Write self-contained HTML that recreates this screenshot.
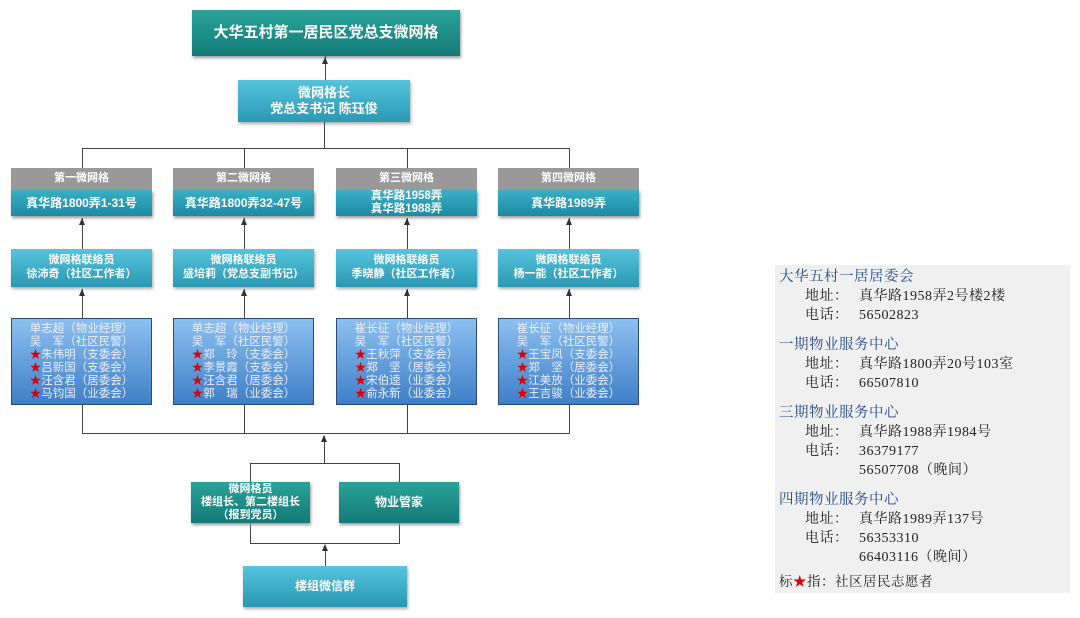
<!DOCTYPE html>
<html><head><meta charset="utf-8"><style>
body{margin:0;width:1080px;height:618px;background:#fff;position:relative;font-family:"Liberation Sans","Noto Sans CJK SC",sans-serif;overflow:hidden}
.b{position:absolute;box-sizing:border-box;color:#fff;font-weight:bold;text-align:center;display:flex;align-items:center;justify-content:center;flex-direction:column;line-height:1.25}
.t{background:linear-gradient(#2aa39a,#137a78);box-shadow:1px 2px 3px #999}
.l{background:linear-gradient(#55c4dc,#2c98b4);box-shadow:1px 2px 3px #aaa}
.g{background:#999;font-size:11px;height:22px}
.m{background:linear-gradient(#8cc0f0,#3f7fc8);border:1px solid #2a4a78;font-weight:normal;color:#eef;font-size:11.5px;line-height:13px;align-items:center}
.ln{position:absolute;background:#444}
.ar{position:absolute;width:0;height:0;border-left:3px solid transparent;border-right:3px solid transparent;border-bottom:7px solid #333}
.p{position:absolute;left:775px;top:265px;width:295px;height:328px;background:#f0f0f0;font-family:"Liberation Serif","Noto Serif CJK SC",serif;font-size:14px;color:#222;line-height:19px;padding:3px 0 0 4px;box-sizing:border-box;letter-spacing:0.5px}
.p .h{color:#234a8a;font-size:14.5px}
.p .r{padding-left:26px}
.p .r b{display:inline-block;width:54px;font-weight:normal}
.p .gap{height:11px}
.s{color:#d00}
</style></head><body>
<div class="b t" style="left:192px;top:10px;width:268px;height:46px;font-size:15px">大华五村第一居民区党总支微网格</div>
<div class="ln" style="left:325px;top:56px;width:1px;height:24px"></div><div class="ar" style="left:322px;top:57px"></div>
<div class="b l" style="left:238px;top:80px;width:172px;height:42px;font-size:13px">微网格长<br>党总支书记 陈珏俊</div>
<div class="ln" style="left:324px;top:122px;width:1px;height:26px"></div>
<div class="ln" style="left:82px;top:148px;width:488px;height:1px"></div>

<div class="ln" style="left:82px;top:148px;width:1px;height:20px"></div>
<div class="ln" style="left:244px;top:148px;width:1px;height:20px"></div>
<div class="ln" style="left:407px;top:148px;width:1px;height:20px"></div>
<div class="ln" style="left:569px;top:148px;width:1px;height:20px"></div>

<div class="b g" style="left:11px;top:168px;width:141px">第一微网格</div>
<div class="b t" style="left:11px;top:190px;width:141px;height:26px;font-size:12px;background:linear-gradient(#3ab0c4,#1d8aa4)">真华路1800弄1-31号</div>
<div class="b g" style="left:173px;top:168px;width:141px">第二微网格</div>
<div class="b t" style="left:173px;top:190px;width:141px;height:26px;font-size:12px;background:linear-gradient(#3ab0c4,#1d8aa4)">真华路1800弄32-47号</div>
<div class="b g" style="left:336px;top:168px;width:141px">第三微网格</div>
<div class="b t" style="left:336px;top:190px;width:141px;height:26px;font-size:11.5px;line-height:13px;background:linear-gradient(#3ab0c4,#1d8aa4)">真华路1958弄<br>真华路1988弄</div>
<div class="b g" style="left:498px;top:168px;width:141px">第四微网格</div>
<div class="b t" style="left:498px;top:190px;width:141px;height:26px;font-size:12px;background:linear-gradient(#3ab0c4,#1d8aa4)">真华路1989弄</div>

<div class="ln" style="left:82px;top:218px;width:1px;height:31px"></div><div class="ar" style="left:79px;top:218px"></div>
<div class="ln" style="left:244px;top:218px;width:1px;height:31px"></div><div class="ar" style="left:241px;top:218px"></div>
<div class="ln" style="left:407px;top:218px;width:1px;height:31px"></div><div class="ar" style="left:404px;top:218px"></div>
<div class="ln" style="left:569px;top:218px;width:1px;height:31px"></div><div class="ar" style="left:566px;top:218px"></div>

<div class="b l" style="left:11px;top:249px;width:141px;height:38px;font-size:11px">微网格联络员<br>徐沛奇（社区工作者）</div>
<div class="b l" style="left:173px;top:249px;width:141px;height:38px;font-size:11px">微网格联络员<br>盛培莉（党总支副书记）</div>
<div class="b l" style="left:336px;top:249px;width:141px;height:38px;font-size:11px">微网格联络员<br>季晓静（社区工作者）</div>
<div class="b l" style="left:498px;top:249px;width:141px;height:38px;font-size:11px">微网格联络员<br>杨一能（社区工作者）</div>

<div class="ln" style="left:82px;top:289px;width:1px;height:29px"></div><div class="ar" style="left:79px;top:289px"></div>
<div class="ln" style="left:244px;top:289px;width:1px;height:29px"></div><div class="ar" style="left:241px;top:289px"></div>
<div class="ln" style="left:407px;top:289px;width:1px;height:29px"></div><div class="ar" style="left:404px;top:289px"></div>
<div class="ln" style="left:569px;top:289px;width:1px;height:29px"></div><div class="ar" style="left:566px;top:289px"></div>

<div class="b m" style="left:11px;top:318px;width:141px;height:87px"><div>单志超（物业经理）<br>吴　军（社区民警）<br><span class="s">★</span>朱伟明（支委会）<br><span class="s">★</span>吕新国（支委会）<br><span class="s">★</span>汪含君（居委会）<br><span class="s">★</span>马钧国（业委会）</div></div>
<div class="b m" style="left:173px;top:318px;width:141px;height:87px"><div>单志超（物业经理）<br>吴　军（社区民警）<br><span class="s">★</span>郑　玲（支委会）<br><span class="s">★</span>李景霞（支委会）<br><span class="s">★</span>汪含君（居委会）<br><span class="s">★</span>郭　瑞（业委会）</div></div>
<div class="b m" style="left:336px;top:318px;width:141px;height:87px"><div>崔长征（物业经理）<br>吴　军（社区民警）<br><span class="s">★</span>王秋萍（支委会）<br><span class="s">★</span>郑　坚（居委会）<br><span class="s">★</span>宋伯逵（业委会）<br><span class="s">★</span>俞永新（业委会）</div></div>
<div class="b m" style="left:498px;top:318px;width:141px;height:87px"><div>崔长征（物业经理）<br>吴　军（社区民警）<br><span class="s">★</span>王宝凤（支委会）<br><span class="s">★</span>郑　坚（居委会）<br><span class="s">★</span>江美放（业委会）<br><span class="s">★</span>王吉骏（业委会）</div></div>

<div class="ln" style="left:82px;top:405px;width:1px;height:28px"></div>
<div class="ln" style="left:244px;top:405px;width:1px;height:28px"></div>
<div class="ln" style="left:407px;top:405px;width:1px;height:28px"></div>
<div class="ln" style="left:569px;top:405px;width:1px;height:28px"></div>
<div class="ln" style="left:82px;top:433px;width:488px;height:1px"></div>
<div class="ln" style="left:324px;top:436px;width:1px;height:27px"></div><div class="ar" style="left:321px;top:435px"></div>
<div class="ln" style="left:250px;top:463px;width:150px;height:1px"></div>
<div class="ln" style="left:250px;top:463px;width:1px;height:80px"></div>
<div class="ln" style="left:399px;top:463px;width:1px;height:80px"></div>
<div class="ln" style="left:250px;top:543px;width:150px;height:1px"></div>

<div class="b t" style="left:191px;top:482px;width:119px;height:41px;font-size:11px;line-height:13px">微网格员<br>楼组长、第二楼组长<br>（报到党员）</div>
<div class="b t" style="left:339px;top:482px;width:120px;height:41px;font-size:12px">物业管家</div>

<div class="ln" style="left:325px;top:546px;width:1px;height:20px"></div><div class="ar" style="left:322px;top:544px"></div>
<div class="b l" style="left:243px;top:566px;width:164px;height:41px;font-size:12px">楼组微信群</div>

<div class="p">
<div class="h">大华五村一居居委会</div>
<div class="r"><b>地址：</b>真华路1958弄2号楼2楼</div>
<div class="r"><b>电话：</b>56502823</div>
<div class="gap"></div>
<div class="h">一期物业服务中心</div>
<div class="r"><b>地址：</b>真华路1800弄20号103室</div>
<div class="r"><b>电话：</b>66507810</div>
<div class="gap"></div>
<div class="h">三期物业服务中心</div>
<div class="r"><b>地址：</b>真华路1988弄1984号</div>
<div class="r"><b>电话：</b>36379177</div>
<div class="r" style="padding-left:80px">56507708（晚间）</div>
<div class="gap"></div>
<div class="h">四期物业服务中心</div>
<div class="r"><b>地址：</b>真华路1989弄137号</div>
<div class="r"><b>电话：</b>56353310</div>
<div class="r" style="padding-left:80px">66403116（晚间）</div>
<div style="margin-top:5px;font-size:13.5px">标<span class="s">★</span>指：社区居民志愿者</div>
</div>
</body></html>
